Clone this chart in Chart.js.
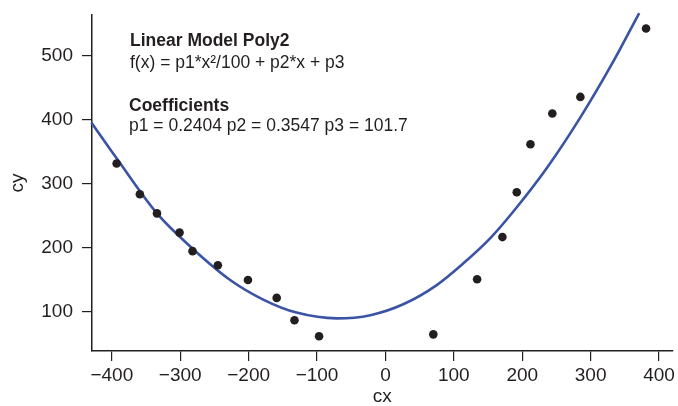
<!DOCTYPE html>
<html>
<head>
<meta charset="utf-8">
<title>Linear Model Poly2</title>
<script src="https://cdn.jsdelivr.net/npm/chart.js@4/dist/chart.umd.min.js"></script>
<style>
  html, body { margin: 0; padding: 0; background: #fff; }
  #wrap { width: 678px; height: 406px; }
</style>
</head>
<body>
<div id="wrap"><canvas id="fitchart"></canvas></div>
<script>
// measured points
const cx = [-393, -359, -334, -301, -282, -245, -201, -159, -133, -97, 70, 134, 171, 192, 212, 244, 285, 381];
const cy = [331, 283, 253, 223, 194, 172, 149, 121, 86, 61, 64, 150, 216, 286, 361, 409, 435, 542];

// fitted curve
const fitX = [-430, -393, -334, -285, -227, -178, -130, -71, -22, 26, 75, 114, 153, 187, 236, 285, 333, 371];
const fitY = [395, 339, 253, 201, 149, 118, 98, 89, 94, 111, 141, 175, 214, 256, 324, 403, 490, 566];

const xTicks = [-400, -300, -200, -100, 0, 100, 200, 300, 400];
const yTicks = [100, 200, 300, 400, 500];

const ink = '#231f20';
const fontFamily = '"Liberation Sans", Arial, Helvetica, sans-serif';

const toPoints = (xs, ys) => xs.map((x, i) => ({ x: x, y: ys[i] }));
const minus = v => String(v).replace('-', '\u2212');

// text block in the upper left
const notes = {
  id: 'notes',
  afterDraw(chart) {
    const c = chart.ctx;
    c.save();
    c.fillStyle = ink;
    c.textAlign = 'left';
    c.textBaseline = 'alphabetic';
    c.font = 'bold 17.5px ' + fontFamily;
    c.fillText('Linear Model Poly2', 130, 46);
    c.fillText('Coefficients', 129, 111);
    c.font = '17.5px ' + fontFamily;
    c.fillText('f(x) = p1*x\u00b2/100 + p2*x + p3', 130, 68);
    c.fillText('p1 = 0.2404 p2 = 0.3547 p3 = 101.7', 129, 131);
    c.restore();
  }
};

new Chart(document.getElementById('fitchart'), {
  type: 'scatter',
  data: {
    datasets: [{
      label: 'data',
      data: toPoints(cx, cy),
      pointRadius: 4.3,
      pointBackgroundColor: ink,
      pointBorderWidth: 0,
      order: 0
    },
    {
      label: 'fit',
      data: toPoints(fitX, fitY),
      showLine: true,
      borderColor: '#3a53a4',
      borderWidth: 2.6,
      pointRadius: 0,
      cubicInterpolationMode: 'monotone',
      clip: false,
      order: 1
    }]
  },
  plugins: [notes],
  options: {
    responsive: true,
    maintainAspectRatio: false,
    animation: false,
    layout: { padding: { top: 15, right: 5, left: 0, bottom: 0 } },
    plugins: {
      legend: { display: false },
      tooltip: { enabled: false }
    },
    scales: {
      x: {
        type: 'linear',
        min: -429,
        max: 420,
        afterBuildTicks: s => { s.ticks = xTicks.map(v => ({ value: v })); },
        afterFit: s => { s.height = 55; },
        grid: { drawOnChartArea: false, drawTicks: true, tickLength: 10, color: ink, lineWidth: 1.2 },
        border: { color: ink, width: 1.5 },
        ticks: { color: ink, padding: 3, font: { family: fontFamily, size: 19 }, callback: v => minus(v) },
        title: { display: true, text: 'cx', color: ink, padding: 0, font: { family: fontFamily, size: 19, lineHeight: 1 } }
      },
      y: {
        type: 'linear',
        min: 38,
        max: 563,
        afterBuildTicks: s => { s.ticks = yTicks.map(v => ({ value: v })); },
        afterFit: s => { s.width = 92; s.paddingTop = 0; s.paddingBottom = 0; },
        grid: { drawOnChartArea: false, drawTicks: true, tickLength: 10, color: ink, lineWidth: 1.2 },
        border: { color: ink, width: 1.5 },
        ticks: { color: ink, padding: 9, font: { family: fontFamily, size: 19 } },
        title: { display: true, text: 'cy', color: ink, padding: 8, font: { family: fontFamily, size: 19, lineHeight: 1 } }
      }
    }
  }
});
</script>
</body>
</html>
